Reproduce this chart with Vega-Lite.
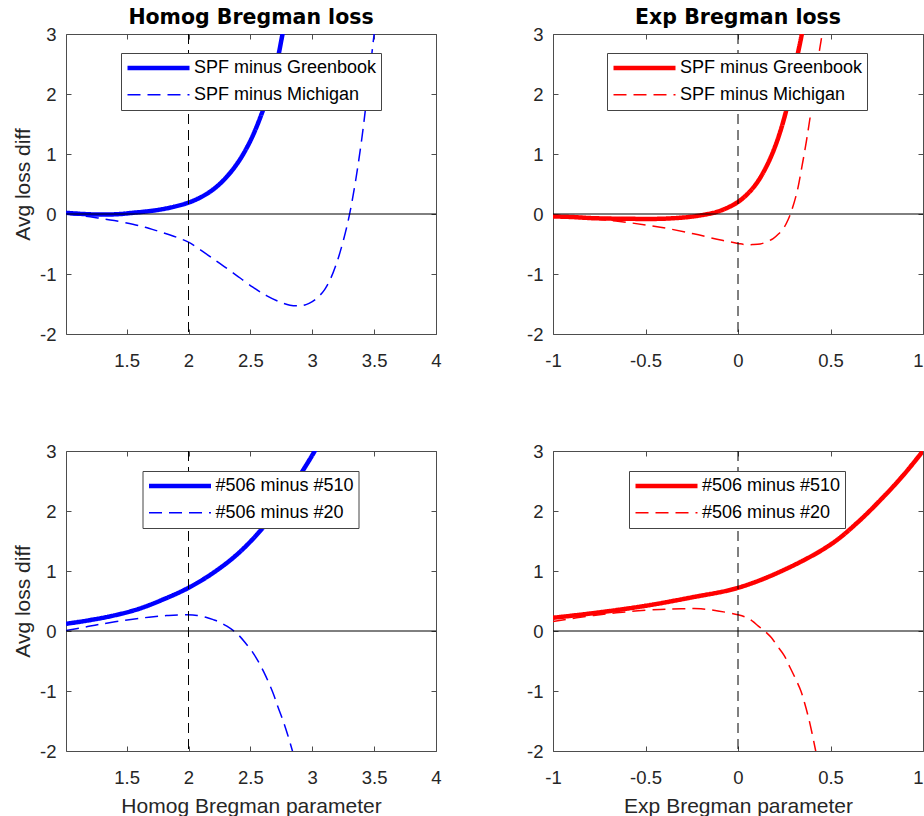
{
  "$schema": "https://vega.github.io/schema/vega-lite/v6.json",
  "background": "white",
  "padding": {"left": 12, "top": 7, "right": 0, "bottom": 0},
  "datasets": {
    "tl": [
      {"x": 1.01, "y": 0.02, "series": "SPF minus Greenbook"},
      {"x": 1.15, "y": 0.0, "series": "SPF minus Greenbook"},
      {"x": 1.3, "y": -0.01, "series": "SPF minus Greenbook"},
      {"x": 1.45, "y": 0.0, "series": "SPF minus Greenbook"},
      {"x": 1.55, "y": 0.02, "series": "SPF minus Greenbook"},
      {"x": 1.65, "y": 0.04, "series": "SPF minus Greenbook"},
      {"x": 1.76, "y": 0.07, "series": "SPF minus Greenbook"},
      {"x": 1.88, "y": 0.12, "series": "SPF minus Greenbook"},
      {"x": 2.0, "y": 0.19, "series": "SPF minus Greenbook"},
      {"x": 2.1, "y": 0.28, "series": "SPF minus Greenbook"},
      {"x": 2.2, "y": 0.41, "series": "SPF minus Greenbook"},
      {"x": 2.3, "y": 0.6, "series": "SPF minus Greenbook"},
      {"x": 2.4, "y": 0.86, "series": "SPF minus Greenbook"},
      {"x": 2.5, "y": 1.22, "series": "SPF minus Greenbook"},
      {"x": 2.6, "y": 1.72, "series": "SPF minus Greenbook"},
      {"x": 2.67, "y": 2.17, "series": "SPF minus Greenbook"},
      {"x": 2.72, "y": 2.58, "series": "SPF minus Greenbook"},
      {"x": 2.76, "y": 3.0, "series": "SPF minus Greenbook"},
      {"x": 2.8, "y": 3.4, "series": "SPF minus Greenbook"},
      {"x": 1.01, "y": 0.0, "series": "SPF minus Michigan"},
      {"x": 1.15, "y": -0.03, "series": "SPF minus Michigan"},
      {"x": 1.28, "y": -0.07, "series": "SPF minus Michigan"},
      {"x": 1.4, "y": -0.11, "series": "SPF minus Michigan"},
      {"x": 1.55, "y": -0.17, "series": "SPF minus Michigan"},
      {"x": 1.65, "y": -0.22, "series": "SPF minus Michigan"},
      {"x": 1.76, "y": -0.29, "series": "SPF minus Michigan"},
      {"x": 1.88, "y": -0.37, "series": "SPF minus Michigan"},
      {"x": 2.0, "y": -0.47, "series": "SPF minus Michigan"},
      {"x": 2.14, "y": -0.66, "series": "SPF minus Michigan"},
      {"x": 2.25, "y": -0.82, "series": "SPF minus Michigan"},
      {"x": 2.36, "y": -0.98, "series": "SPF minus Michigan"},
      {"x": 2.52, "y": -1.22, "series": "SPF minus Michigan"},
      {"x": 2.63, "y": -1.36, "series": "SPF minus Michigan"},
      {"x": 2.73, "y": -1.46, "series": "SPF minus Michigan"},
      {"x": 2.82, "y": -1.52, "series": "SPF minus Michigan"},
      {"x": 2.9, "y": -1.53, "series": "SPF minus Michigan"},
      {"x": 2.95, "y": -1.51, "series": "SPF minus Michigan"},
      {"x": 3.0, "y": -1.46, "series": "SPF minus Michigan"},
      {"x": 3.05, "y": -1.38, "series": "SPF minus Michigan"},
      {"x": 3.1, "y": -1.26, "series": "SPF minus Michigan"},
      {"x": 3.15, "y": -1.07, "series": "SPF minus Michigan"},
      {"x": 3.2, "y": -0.8, "series": "SPF minus Michigan"},
      {"x": 3.25, "y": -0.45, "series": "SPF minus Michigan"},
      {"x": 3.3, "y": -0.02, "series": "SPF minus Michigan"},
      {"x": 3.35, "y": 0.55, "series": "SPF minus Michigan"},
      {"x": 3.4, "y": 1.25, "series": "SPF minus Michigan"},
      {"x": 3.45, "y": 2.1, "series": "SPF minus Michigan"},
      {"x": 3.5, "y": 3.0, "series": "SPF minus Michigan"},
      {"x": 3.53, "y": 3.5, "series": "SPF minus Michigan"}
    ],
    "tr": [
      {"x": -1.0, "y": -0.04, "series": "SPF minus Greenbook"},
      {"x": -0.9, "y": -0.05, "series": "SPF minus Greenbook"},
      {"x": -0.78, "y": -0.07, "series": "SPF minus Greenbook"},
      {"x": -0.6, "y": -0.08, "series": "SPF minus Greenbook"},
      {"x": -0.42, "y": -0.08, "series": "SPF minus Greenbook"},
      {"x": -0.3, "y": -0.06, "series": "SPF minus Greenbook"},
      {"x": -0.24, "y": -0.04, "series": "SPF minus Greenbook"},
      {"x": -0.18, "y": -0.01, "series": "SPF minus Greenbook"},
      {"x": -0.12, "y": 0.03, "series": "SPF minus Greenbook"},
      {"x": -0.06, "y": 0.1, "series": "SPF minus Greenbook"},
      {"x": 0.0, "y": 0.2, "series": "SPF minus Greenbook"},
      {"x": 0.05, "y": 0.33, "series": "SPF minus Greenbook"},
      {"x": 0.1, "y": 0.51, "series": "SPF minus Greenbook"},
      {"x": 0.15, "y": 0.77, "series": "SPF minus Greenbook"},
      {"x": 0.2, "y": 1.12, "series": "SPF minus Greenbook"},
      {"x": 0.25, "y": 1.6, "series": "SPF minus Greenbook"},
      {"x": 0.29, "y": 2.13, "series": "SPF minus Greenbook"},
      {"x": 0.32, "y": 2.62, "series": "SPF minus Greenbook"},
      {"x": 0.345, "y": 3.0, "series": "SPF minus Greenbook"},
      {"x": 0.36, "y": 3.3, "series": "SPF minus Greenbook"},
      {"x": -1.0, "y": -0.04, "series": "SPF minus Michigan"},
      {"x": -0.78, "y": -0.08, "series": "SPF minus Michigan"},
      {"x": -0.6, "y": -0.14, "series": "SPF minus Michigan"},
      {"x": -0.42, "y": -0.22, "series": "SPF minus Michigan"},
      {"x": -0.24, "y": -0.33, "series": "SPF minus Michigan"},
      {"x": -0.1, "y": -0.43, "series": "SPF minus Michigan"},
      {"x": 0.0, "y": -0.49, "series": "SPF minus Michigan"},
      {"x": 0.04, "y": -0.51, "series": "SPF minus Michigan"},
      {"x": 0.08, "y": -0.51, "series": "SPF minus Michigan"},
      {"x": 0.12, "y": -0.5, "series": "SPF minus Michigan"},
      {"x": 0.15, "y": -0.47, "series": "SPF minus Michigan"},
      {"x": 0.19, "y": -0.41, "series": "SPF minus Michigan"},
      {"x": 0.22, "y": -0.33, "series": "SPF minus Michigan"},
      {"x": 0.25, "y": -0.22, "series": "SPF minus Michigan"},
      {"x": 0.27, "y": -0.1, "series": "SPF minus Michigan"},
      {"x": 0.29, "y": 0.06, "series": "SPF minus Michigan"},
      {"x": 0.32, "y": 0.38, "series": "SPF minus Michigan"},
      {"x": 0.345, "y": 0.78, "series": "SPF minus Michigan"},
      {"x": 0.37, "y": 1.22, "series": "SPF minus Michigan"},
      {"x": 0.395, "y": 1.72, "series": "SPF minus Michigan"},
      {"x": 0.42, "y": 2.28, "series": "SPF minus Michigan"},
      {"x": 0.44, "y": 2.72, "series": "SPF minus Michigan"},
      {"x": 0.455, "y": 3.0, "series": "SPF minus Michigan"},
      {"x": 0.47, "y": 3.3, "series": "SPF minus Michigan"}
    ],
    "bl": [
      {"x": 1.01, "y": 0.12, "series": "#506 minus #510"},
      {"x": 1.2, "y": 0.18, "series": "#506 minus #510"},
      {"x": 1.4, "y": 0.26, "series": "#506 minus #510"},
      {"x": 1.6, "y": 0.37, "series": "#506 minus #510"},
      {"x": 1.8, "y": 0.53, "series": "#506 minus #510"},
      {"x": 2.0, "y": 0.72, "series": "#506 minus #510"},
      {"x": 2.2, "y": 0.97, "series": "#506 minus #510"},
      {"x": 2.4, "y": 1.29, "series": "#506 minus #510"},
      {"x": 2.6, "y": 1.72, "series": "#506 minus #510"},
      {"x": 2.8, "y": 2.28, "series": "#506 minus #510"},
      {"x": 2.95, "y": 2.76, "series": "#506 minus #510"},
      {"x": 3.02, "y": 3.0, "series": "#506 minus #510"},
      {"x": 3.06, "y": 3.15, "series": "#506 minus #510"},
      {"x": 1.01, "y": 0.01, "series": "#506 minus #20"},
      {"x": 1.15, "y": 0.06, "series": "#506 minus #20"},
      {"x": 1.28, "y": 0.11, "series": "#506 minus #20"},
      {"x": 1.49, "y": 0.18, "series": "#506 minus #20"},
      {"x": 1.68, "y": 0.23, "series": "#506 minus #20"},
      {"x": 1.84, "y": 0.26, "series": "#506 minus #20"},
      {"x": 1.99, "y": 0.27, "series": "#506 minus #20"},
      {"x": 2.07, "y": 0.26, "series": "#506 minus #20"},
      {"x": 2.14, "y": 0.23, "series": "#506 minus #20"},
      {"x": 2.2, "y": 0.19, "series": "#506 minus #20"},
      {"x": 2.25, "y": 0.15, "series": "#506 minus #20"},
      {"x": 2.31, "y": 0.08, "series": "#506 minus #20"},
      {"x": 2.36, "y": 0.01, "series": "#506 minus #20"},
      {"x": 2.41, "y": -0.08, "series": "#506 minus #20"},
      {"x": 2.46, "y": -0.2, "series": "#506 minus #20"},
      {"x": 2.52, "y": -0.36, "series": "#506 minus #20"},
      {"x": 2.57, "y": -0.53, "series": "#506 minus #20"},
      {"x": 2.61, "y": -0.69, "series": "#506 minus #20"},
      {"x": 2.65, "y": -0.87, "series": "#506 minus #20"},
      {"x": 2.69, "y": -1.07, "series": "#506 minus #20"},
      {"x": 2.72, "y": -1.25, "series": "#506 minus #20"},
      {"x": 2.76, "y": -1.47, "series": "#506 minus #20"},
      {"x": 2.8, "y": -1.72, "series": "#506 minus #20"},
      {"x": 2.84, "y": -2.0, "series": "#506 minus #20"},
      {"x": 2.86, "y": -2.15, "series": "#506 minus #20"}
    ],
    "br": [
      {"x": -1.0, "y": 0.22, "series": "#506 minus #510"},
      {"x": -0.75, "y": 0.31, "series": "#506 minus #510"},
      {"x": -0.5, "y": 0.42, "series": "#506 minus #510"},
      {"x": -0.25, "y": 0.56, "series": "#506 minus #510"},
      {"x": 0.0, "y": 0.72, "series": "#506 minus #510"},
      {"x": 0.25, "y": 1.02, "series": "#506 minus #510"},
      {"x": 0.5, "y": 1.44, "series": "#506 minus #510"},
      {"x": 0.65, "y": 1.82, "series": "#506 minus #510"},
      {"x": 0.8, "y": 2.28, "series": "#506 minus #510"},
      {"x": 0.9, "y": 2.62, "series": "#506 minus #510"},
      {"x": 1.0, "y": 3.0, "series": "#506 minus #510"},
      {"x": -1.0, "y": 0.16, "series": "#506 minus #20"},
      {"x": -0.78, "y": 0.26, "series": "#506 minus #20"},
      {"x": -0.6, "y": 0.32, "series": "#506 minus #20"},
      {"x": -0.42, "y": 0.36, "series": "#506 minus #20"},
      {"x": -0.3, "y": 0.37, "series": "#506 minus #20"},
      {"x": -0.2, "y": 0.37, "series": "#506 minus #20"},
      {"x": -0.1, "y": 0.33, "series": "#506 minus #20"},
      {"x": 0.0, "y": 0.27, "series": "#506 minus #20"},
      {"x": 0.05, "y": 0.22, "series": "#506 minus #20"},
      {"x": 0.08, "y": 0.16, "series": "#506 minus #20"},
      {"x": 0.11, "y": 0.08, "series": "#506 minus #20"},
      {"x": 0.14, "y": 0.01, "series": "#506 minus #20"},
      {"x": 0.18, "y": -0.11, "series": "#506 minus #20"},
      {"x": 0.21, "y": -0.24, "series": "#506 minus #20"},
      {"x": 0.25, "y": -0.41, "series": "#506 minus #20"},
      {"x": 0.28, "y": -0.6, "series": "#506 minus #20"},
      {"x": 0.31, "y": -0.79, "series": "#506 minus #20"},
      {"x": 0.34, "y": -1.0, "series": "#506 minus #20"},
      {"x": 0.36, "y": -1.2, "series": "#506 minus #20"},
      {"x": 0.38, "y": -1.43, "series": "#506 minus #20"},
      {"x": 0.4, "y": -1.7, "series": "#506 minus #20"},
      {"x": 0.42, "y": -2.0, "series": "#506 minus #20"},
      {"x": 0.43, "y": -2.15, "series": "#506 minus #20"}
    ],
    "one": [{}]
  },
  "columns": 2,
  "spacing": 117,
  "bounds": "flush",
  "resolve": {
    "scale": {"strokeDash": "independent", "strokeWidth": "independent"},
    "legend": {"strokeDash": "independent", "strokeWidth": "independent"}
  },
  "concat": [
    {
      "width": 370, "height": 300,
      "title": {"text": "Homog Bregman loss"},
      "layer": [
        {
          "data": {"name": "tl"},
          "mark": {"type": "line", "color": "#0000ff", "clip": true, "interpolate": "catmull-rom"},
          "encoding": {
            "x": {"field": "x", "type": "quantitative", "scale": {"domain": [1.01, 4], "nice": false, "zero": false}, "axis": {"values": [1.5, 2, 2.5, 3, 3.5, 4], "title": null, "labelExpr": "'' + datum.value"}},
            "y": {"field": "y", "type": "quantitative", "scale": {"domain": [-2, 3], "nice": false, "zero": false}, "axis": {"values": [-2, -1, 0, 1, 2, 3], "title": "Avg loss diff", "labelExpr": "'' + datum.value"}},
            "strokeDash": {"field": "series", "type": "nominal", "scale": {"domain": ["SPF minus Greenbook", "SPF minus Michigan"], "range": [[1, 0], [13, 7]]}, "legend": {"title": null, "legendX": 55, "legendY": 19, "symbolStrokeColor": "#0000ff"}},
            "strokeWidth": {"field": "series", "type": "nominal", "scale": {"type": "ordinal", "domain": ["SPF minus Greenbook", "SPF minus Michigan"], "range": [4.5, 1.5]}, "legend": {"title": null, "legendX": 55, "legendY": 19, "symbolStrokeColor": "#0000ff"}}
          }
        },
        {
          "data": {"name": "one"},
          "mark": {"type": "rule", "color": "black", "strokeWidth": 1, "strokeDash": [10, 6]},
          "encoding": {"x": {"datum": 2, "type": "quantitative", "scale": {"domain": [1.01, 4], "nice": false, "zero": false}, "axis": {"orient": "top", "labels": false, "title": null, "values": [1.5, 2, 2.5, 3, 3.5, 4]}}}
        },
        {
          "data": {"name": "one"},
          "mark": {"type": "rule", "color": "black", "strokeWidth": 1},
          "encoding": {"y": {"datum": 0, "type": "quantitative", "scale": {"domain": [-2, 3], "nice": false, "zero": false}, "axis": {"orient": "right", "labels": false, "title": null, "values": [-2, -1, 0, 1, 2, 3]}}}
        }
      ],
      "resolve": {"axis": {"x": "independent", "y": "independent"}}
    },
    {
      "width": 370, "height": 300,
      "title": {"text": "Exp Bregman loss"},
      "layer": [
        {
          "data": {"name": "tr"},
          "mark": {"type": "line", "color": "#ff0000", "clip": true, "interpolate": "catmull-rom"},
          "encoding": {
            "x": {"field": "x", "type": "quantitative", "scale": {"domain": [-1, 1], "nice": false, "zero": false}, "axis": {"values": [-1, -0.5, 0, 0.5, 1], "title": null, "labelExpr": "'' + datum.value", "labelAlign": {"condition": {"test": "datum.value == 1", "value": "right"}, "value": "center"}}},
            "y": {"field": "y", "type": "quantitative", "scale": {"domain": [-2, 3], "nice": false, "zero": false}, "axis": {"values": [-2, -1, 0, 1, 2, 3], "title": null, "labelExpr": "'' + datum.value"}},
            "strokeDash": {"field": "series", "type": "nominal", "scale": {"domain": ["SPF minus Greenbook", "SPF minus Michigan"], "range": [[1, 0], [13, 7]]}, "legend": {"title": null, "legendX": 54, "legendY": 19, "symbolStrokeColor": "#ff0000"}},
            "strokeWidth": {"field": "series", "type": "nominal", "scale": {"type": "ordinal", "domain": ["SPF minus Greenbook", "SPF minus Michigan"], "range": [4.5, 1.5]}, "legend": {"title": null, "legendX": 54, "legendY": 19, "symbolStrokeColor": "#ff0000"}}
          }
        },
        {
          "data": {"name": "one"},
          "mark": {"type": "rule", "color": "black", "strokeWidth": 1, "strokeDash": [10, 6]},
          "encoding": {"x": {"datum": 0, "type": "quantitative", "scale": {"domain": [-1, 1], "nice": false, "zero": false}, "axis": {"orient": "top", "labels": false, "title": null, "values": [-1, -0.5, 0, 0.5, 1]}}}
        },
        {
          "data": {"name": "one"},
          "mark": {"type": "rule", "color": "black", "strokeWidth": 1},
          "encoding": {"y": {"datum": 0, "type": "quantitative", "scale": {"domain": [-2, 3], "nice": false, "zero": false}, "axis": {"orient": "right", "labels": false, "title": null, "values": [-2, -1, 0, 1, 2, 3]}}}
        }
      ],
      "resolve": {"axis": {"x": "independent", "y": "independent"}}
    },
    {
      "width": 370, "height": 300,
      "layer": [
        {
          "data": {"name": "bl"},
          "mark": {"type": "line", "color": "#0000ff", "clip": true, "interpolate": "catmull-rom"},
          "encoding": {
            "x": {"field": "x", "type": "quantitative", "scale": {"domain": [1.01, 4], "nice": false, "zero": false}, "axis": {"values": [1.5, 2, 2.5, 3, 3.5, 4], "title": "Homog Bregman parameter", "labelExpr": "'' + datum.value"}},
            "y": {"field": "y", "type": "quantitative", "scale": {"domain": [-2, 3], "nice": false, "zero": false}, "axis": {"values": [-2, -1, 0, 1, 2, 3], "title": "Avg loss diff", "labelExpr": "'' + datum.value"}},
            "strokeDash": {"field": "series", "type": "nominal", "scale": {"domain": ["#506 minus #510", "#506 minus #20"], "range": [[1, 0], [13, 7]]}, "legend": {"title": null, "legendX": 76.5, "legendY": 20, "symbolStrokeColor": "#0000ff"}},
            "strokeWidth": {"field": "series", "type": "nominal", "scale": {"type": "ordinal", "domain": ["#506 minus #510", "#506 minus #20"], "range": [4.5, 1.5]}, "legend": {"title": null, "legendX": 76.5, "legendY": 20, "symbolStrokeColor": "#0000ff"}}
          }
        },
        {
          "data": {"name": "one"},
          "mark": {"type": "rule", "color": "black", "strokeWidth": 1, "strokeDash": [10, 6]},
          "encoding": {"x": {"datum": 2, "type": "quantitative", "scale": {"domain": [1.01, 4], "nice": false, "zero": false}, "axis": {"orient": "top", "labels": false, "title": null, "values": [1.5, 2, 2.5, 3, 3.5, 4]}}}
        },
        {
          "data": {"name": "one"},
          "mark": {"type": "rule", "color": "black", "strokeWidth": 1},
          "encoding": {"y": {"datum": 0, "type": "quantitative", "scale": {"domain": [-2, 3], "nice": false, "zero": false}, "axis": {"orient": "right", "labels": false, "title": null, "values": [-2, -1, 0, 1, 2, 3]}}}
        }
      ],
      "resolve": {"axis": {"x": "independent", "y": "independent"}}
    },
    {
      "width": 370, "height": 300,
      "layer": [
        {
          "data": {"name": "br"},
          "mark": {"type": "line", "color": "#ff0000", "clip": true, "interpolate": "catmull-rom"},
          "encoding": {
            "x": {"field": "x", "type": "quantitative", "scale": {"domain": [-1, 1], "nice": false, "zero": false}, "axis": {"values": [-1, -0.5, 0, 0.5, 1], "title": "Exp Bregman parameter", "labelExpr": "'' + datum.value", "labelAlign": {"condition": {"test": "datum.value == 1", "value": "right"}, "value": "center"}}},
            "y": {"field": "y", "type": "quantitative", "scale": {"domain": [-2, 3], "nice": false, "zero": false}, "axis": {"values": [-2, -1, 0, 1, 2, 3], "title": null, "labelExpr": "'' + datum.value"}},
            "strokeDash": {"field": "series", "type": "nominal", "scale": {"domain": ["#506 minus #510", "#506 minus #20"], "range": [[1, 0], [13, 7]]}, "legend": {"title": null, "legendX": 76, "legendY": 20, "symbolStrokeColor": "#ff0000"}},
            "strokeWidth": {"field": "series", "type": "nominal", "scale": {"type": "ordinal", "domain": ["#506 minus #510", "#506 minus #20"], "range": [4.5, 1.5]}, "legend": {"title": null, "legendX": 76, "legendY": 20, "symbolStrokeColor": "#ff0000"}}
          }
        },
        {
          "data": {"name": "one"},
          "mark": {"type": "rule", "color": "black", "strokeWidth": 1, "strokeDash": [10, 6]},
          "encoding": {"x": {"datum": 0, "type": "quantitative", "scale": {"domain": [-1, 1], "nice": false, "zero": false}, "axis": {"orient": "top", "labels": false, "title": null, "values": [-1, -0.5, 0, 0.5, 1]}}}
        },
        {
          "data": {"name": "one"},
          "mark": {"type": "rule", "color": "black", "strokeWidth": 1},
          "encoding": {"y": {"datum": 0, "type": "quantitative", "scale": {"domain": [-2, 3], "nice": false, "zero": false}, "axis": {"orient": "right", "labels": false, "title": null, "values": [-2, -1, 0, 1, 2, 3]}}}
        }
      ],
      "resolve": {"axis": {"x": "independent", "y": "independent"}}
    }
  ],
  "config": {
    "view": {"stroke": null},
    "axis": {
      "grid": false,
      "domainColor": "#4d4d4d",
      "tickColor": "#4d4d4d",
      "tickSize": -5,
      "labelFlush": false,
      "labelOverlap": false,
      "labelFont": "Liberation Sans",
      "labelFontSize": 18.5,
      "labelColor": "#262626",
      "titleFont": "Liberation Sans",
      "titleFontSize": 21,
      "titleFontWeight": "normal",
      "titleColor": "#262626"
    },
    "axisX": {"labelPadding": 22, "titlePadding": 9},
    "axisY": {"labelPadding": 15, "titlePadding": 6},
    "legend": {
      "orient": "none",
      "direction": "vertical",
      "symbolType": "stroke",
      "symbolSize": 3844,
      "clipHeight": 22,
      "rowPadding": 4.7,
      "padding": 4,
      "labelOffset": 2,
      "labelLimit": 0,
      "labelFont": "Liberation Sans",
      "labelFontSize": 18,
      "labelColor": "black",
      "strokeColor": "#444444",
      "fillColor": "white"
    },
    "title": {
      "font": "DejaVu Sans",
      "fontSize": 20.5,
      "fontWeight": "bold",
      "color": "black",
      "baseline": "alphabetic",
      "offset": -3,
      "frame": "group"
    }
  }
}
